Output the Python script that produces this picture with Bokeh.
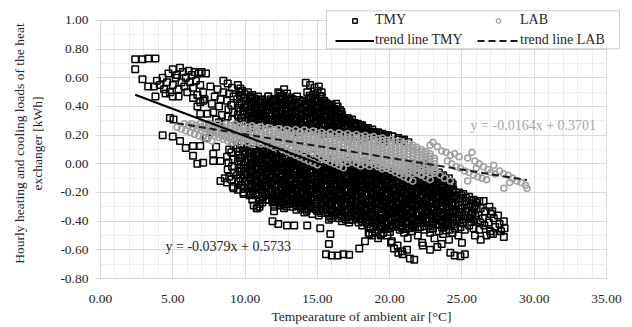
from bokeh.plotting import figure
from bokeh.models import (Legend, LegendItem, SingleIntervalTicker,
                          NumeralTickFormatter, Label, BoxAnnotation, Range1d)
from bokeh.embed import file_html
from bokeh.resources import INLINE

# ---------------- data ----------------
# TMY: hourly loads vs ambient temperature, (temperature, load) pairs
tmy_upper_left = [
    (2.4, .73), (2.9, .73), (3.3, .735), (3.8, .735), (2.4, .66), (2.9, .59), (3.3, .54), (3.7, .54),
    (3.8, .47), (3.9, .58), (4.1, .55), (4.3, .60), (4.4, .52), (4.6, .57), (4.7, .63), (4.8, .50),
    (5.0, .66), (5.0, .55), (5.2, .60), (5.3, .62), (5.4, .52), (5.5, .67), (5.6, .57), (5.7, .64),
    (5.8, .54), (5.9, .60), (6.0, .50), (6.1, .65), (6.2, .57), (6.3, .62), (6.4, .53), (6.5, .64),
    (6.6, .58), (6.7, .48), (6.8, .63), (6.9, .55), (7.0, .64), (7.1, .50), (7.2, .45), (5.0, .47),
    (5.4, .47), (4.5, .49), (6.4, .46), (6.9, .43), (7.3, .63),
]
tmy_lower_left = [
    (4.3, .20), (5.0, .19), (4.8, .32), (5.05, .31), (5.5, .16), (5.9, .11), (6.4, .125), (6.9, .125),
    (7.3, .18), (7.6, .22), (7.5, .27), (6.4, .056), (6.7, .0), (7.1, .007), (7.8, .02), (8.3, .02),
    (8.0, .12), (7.8, .07), (6.9, .35), (7.4, .35), (7.8, .36), (6.7, .40), (7.1, .44), (8.3, -.12),
    (8.6, -.10), (9.2, -.17), (9.9, -.21), (10.4, -.21), (10.6, -.29), (10.8, -.31), (11.0, -.30),
    (12.0, -.26), (7.6, .54), (7.7, .42), (7.9, .47), (8.0, .31), (8.1, .52), (8.2, .40), (8.3, .45),
    (8.4, .34), (8.5, .58), (8.5, .50), (8.6, .28), (8.2, .29),
]
tmy_core = [
    (8.8, .56), (8.9, .49), (8.75, .44), (8.85, .38), (8.8, .33), (8.9, .10), (8.75, .05), (8.85, .01), (8.8, -.04), (8.9, -.09), (8.75, -.13),
    (9.1, .53), (9.2, .47), (9.05, .41), (9.15, .36), (9.1, .31), (9.2, .13), (9.05, .08), (9.15, .03), (9.1, -.02), (9.2, -.06), (9.05, -.11), (9.15, -.16),
    (9.5, .55), (9.6, .50), (9.45, .45), (9.55, .39), (9.5, .34), (9.6, .29), (9.45, .11), (9.55, .06), (9.5, .02), (9.6, -.03), (9.45, -.08), (9.55, -.12), (9.5, -.18),
    (9.8, .51), (9.9, .46), (9.75, .42), (9.85, .37), (9.8, .32), (9.9, .27), (9.75, .14), (9.85, .09), (9.8, .04), (9.9, -.01), (9.75, -.05), (9.85, -.10), (9.8, -.15), (9.9, -.20),
    (10.2, .50), (10.3, .44), (10.15, .40), (10.25, .35), (10.2, .30), (10.3, .25), (10.15, .12), (10.25, .07), (10.2, .03), (10.3, -.02), (10.15, -.07), (10.25, -.12), (10.2, -.17), (10.3, -.22),
    (10.5, .48), (10.6, .43), (10.45, .38), (10.55, .33), (10.5, .28), (10.6, .10), (10.45, .05), (10.55, .00), (10.5, -.04), (10.6, -.09), (10.45, -.14), (10.55, -.19), (10.5, -.25),
    (10.9, .47), (11.0, .42), (10.85, .37), (10.95, .32), (10.9, .27), (11.0, .13), (10.85, .08), (10.95, .03), (10.9, -.02), (11.0, -.06), (10.85, -.11), (10.95, -.16), (10.9, -.21), (11.0, -.28), (10.85, -.31),
    (11.2, .45), (11.3, .40), (11.15, .35), (11.25, .30), (11.2, .11), (11.3, .06), (11.15, .01), (11.25, -.04), (11.2, -.08), (11.3, -.13), (11.15, -.18), (11.25, -.23), (11.2, -.27),
    (11.6, .47), (11.7, .43), (11.55, .38), (11.65, .33), (11.6, .28), (11.7, .09), (11.55, .04), (11.65, -.01), (11.6, -.05), (11.7, -.10), (11.55, -.15), (11.65, -.20), (11.6, -.25),
    (11.9, .44), (12.0, .39), (11.85, .34), (11.95, .29), (11.9, .12), (12.0, .07), (11.85, .02), (11.95, -.03), (11.9, -.07), (12.0, -.12), (11.85, -.17), (11.95, -.22), (11.9, -.27), (12.0, -.33),
    (12.3, .50), (12.4, .45), (12.25, .40), (12.35, .35), (12.3, .30), (12.4, .25), (12.25, .05), (12.35, .00), (12.3, -.05), (12.4, -.09), (12.25, -.14), (12.35, -.19), (12.3, -.24), (12.4, -.29),
    (12.6, .47), (12.7, .42), (12.55, .37), (12.65, .32), (12.6, .27), (12.7, .08), (12.55, .03), (12.65, -.02), (12.6, -.07), (12.7, -.11), (12.55, -.16), (12.65, -.21), (12.6, -.26), (12.7, -.31),
    (12.9, .49), (13.0, .44), (12.85, .39), (12.95, .34), (12.9, .29), (13.0, .24), (12.85, .06), (12.95, .01), (12.9, -.04), (13.0, -.08), (12.85, -.13), (12.95, -.18), (12.9, -.23), (13.0, -.28),
    (13.3, .45), (13.4, .40), (13.25, .35), (13.35, .30), (13.3, .25), (13.4, .04), (13.25, -.01), (13.35, -.06), (13.3, -.10), (13.4, -.15), (13.25, -.20), (13.35, -.25), (13.3, -.30),
    (13.6, .47), (13.7, .42), (13.55, .37), (13.65, .32), (13.6, .27), (13.7, .22), (13.55, .07), (13.65, .02), (13.6, -.03), (13.7, -.08), (13.55, -.12), (13.65, -.17), (13.6, -.22), (13.7, -.27), (13.55, -.32),
    (14.0, .44), (14.1, .39), (13.95, .34), (14.05, .29), (14.0, .24), (14.1, .05), (13.95, .00), (14.05, -.05), (14.0, -.10), (14.1, -.14), (13.95, -.19), (14.05, -.24), (14.0, -.29), (14.1, -.34),
    (14.3, .50), (14.4, .45), (14.25, .40), (14.35, .35), (14.3, .30), (14.4, .25), (14.25, .03), (14.35, -.02), (14.3, -.07), (14.4, -.11), (14.25, -.16), (14.35, -.21), (14.3, -.26), (14.4, -.31),
    (14.7, .48), (14.8, .43), (14.65, .38), (14.75, .33), (14.7, .28), (14.8, .23), (14.65, .06), (14.75, .01), (14.7, -.04), (14.8, -.09), (14.65, -.13), (14.75, -.18), (14.7, -.23), (14.8, -.28), (14.65, -.35),
    (15.0, .51), (15.1, .44), (14.95, .39), (15.05, .34), (15.0, .29), (15.1, .04), (14.95, -.01), (15.05, -.06), (15.0, -.11), (15.1, -.15), (14.95, -.20), (15.05, -.25), (15.0, -.30), (15.1, -.36),
    (15.3, .47), (15.4, .41), (15.25, .36), (15.35, .31), (15.3, .26), (15.4, .21), (15.25, .02), (15.35, -.03), (15.3, -.08), (15.4, -.12), (15.25, -.17), (15.35, -.22), (15.3, -.27), (15.4, -.32),
    (15.7, .42), (15.8, .38), (15.65, .33), (15.75, .28), (15.7, .23), (15.8, .00), (15.65, -.05), (15.75, -.10), (15.7, -.14), (15.8, -.19), (15.65, -.24), (15.75, -.29), (15.7, -.34), (15.8, -.39),
    (16.0, .41), (16.1, .36), (15.95, .31), (16.05, .26), (16.0, .21), (16.1, .03), (15.95, -.02), (16.05, -.07), (16.0, -.12), (16.1, -.16), (15.95, -.21), (16.05, -.26), (16.0, -.31), (16.1, -.36),
    (16.4, .40), (16.5, .35), (16.35, .30), (16.45, .25), (16.4, .20), (16.5, .01), (16.35, -.04), (16.45, -.09), (16.4, -.14), (16.5, -.18), (16.35, -.23), (16.45, -.28), (16.4, -.33), (16.5, -.38),
    (16.7, .34), (16.8, .29), (16.65, .24), (16.75, .19), (16.7, -.01), (16.8, -.06), (16.65, -.11), (16.75, -.15), (16.7, -.20), (16.8, -.25), (16.65, -.30), (16.75, -.35), (16.7, -.40),
    (17.1, .32), (17.2, .27), (17.05, .22), (17.15, .17), (17.1, .02), (17.2, -.03), (17.05, -.08), (17.15, -.13), (17.1, -.17), (17.2, -.22), (17.05, -.27), (17.15, -.32), (17.1, -.37), (17.2, -.41),
    (17.4, .31), (17.5, .26), (17.35, .21), (17.45, .00), (17.4, -.05), (17.5, -.10), (17.35, -.15), (17.45, -.19), (17.4, -.24), (17.5, -.29), (17.35, -.34), (17.45, -.39),
    (17.8, .28), (17.9, .24), (17.75, .19), (17.85, -.02), (17.8, -.07), (17.9, -.12), (17.75, -.16), (17.85, -.21), (17.8, -.26), (17.9, -.31), (17.75, -.36), (17.85, -.41),
    (18.1, .27), (18.2, .22), (18.05, .17), (18.15, .01), (18.1, -.04), (18.2, -.09), (18.05, -.14), (18.15, -.18), (18.1, -.23), (18.2, -.28), (18.05, -.33), (18.15, -.38), (18.1, -.43),
    (18.5, .25), (18.6, .20), (18.45, -.03), (18.55, -.08), (18.5, -.12), (18.6, -.17), (18.45, -.22), (18.55, -.27), (18.5, -.32), (18.6, -.37), (18.45, -.42), (18.55, -.48),
    (18.8, .24), (18.9, .19), (18.75, .00), (18.85, -.05), (18.8, -.10), (18.9, -.14), (18.75, -.19), (18.85, -.24), (18.8, -.29), (18.9, -.34), (18.75, -.39), (18.85, -.44), (18.8, -.50),
    (19.2, .22), (19.3, .17), (19.15, -.02), (19.25, -.07), (19.2, -.12), (19.3, -.16), (19.15, -.21), (19.25, -.26), (19.2, -.31), (19.3, -.36), (19.15, -.41), (19.25, -.46), (19.2, -.52),
    (19.5, .21), (19.6, .16), (19.45, -.04), (19.55, -.09), (19.5, -.14), (19.6, -.18), (19.45, -.23), (19.55, -.28), (19.5, -.33), (19.6, -.38), (19.45, -.43), (19.55, -.48),
    (19.9, .20), (20.0, -.06), (19.85, -.11), (19.95, -.15), (19.9, -.20), (20.0, -.25), (19.85, -.30), (19.95, -.35), (19.9, -.40), (20.0, -.45), (19.85, -.50),
    (20.2, .19), (20.3, -.05), (20.15, -.10), (20.25, -.14), (20.2, -.19), (20.3, -.24), (20.15, -.29), (20.25, -.34), (20.2, -.39), (20.3, -.44), (20.15, -.54),
    (20.6, .17), (20.7, -.07), (20.55, -.12), (20.65, -.16), (20.6, -.21), (20.7, -.26), (20.55, -.31), (20.65, -.36), (20.6, -.41), (20.7, -.46), (20.55, -.57),
    (20.9, .16), (21.0, -.09), (20.85, -.13), (20.95, -.18), (20.9, -.23), (21.0, -.28), (20.85, -.33), (20.95, -.38), (20.9, -.43), (21.0, -.48), (20.85, -.61),
    (21.3, .15), (21.4, -.06), (21.25, -.11), (21.35, -.15), (21.3, -.20), (21.4, -.25), (21.25, -.30), (21.35, -.35), (21.3, -.40), (21.4, -.45), (21.25, -.52),
    (21.6, .00), (21.7, -.04), (21.55, -.08), (21.65, -.13), (21.6, -.17), (21.7, -.22), (21.55, -.27), (21.65, -.32), (21.6, -.37), (21.7, -.42), (21.55, -.47),
    (22.0, -.01), (22.1, -.05), (21.95, -.10), (22.05, -.14), (22.0, -.19), (22.1, -.24), (21.95, -.29), (22.05, -.34), (22.0, -.39), (22.1, -.44), (21.95, -.50),
    (22.3, .00), (22.4, -.07), (22.25, -.12), (22.35, -.16), (22.3, -.21), (22.4, -.26), (22.25, -.31), (22.35, -.36), (22.3, -.41), (22.4, -.46), (22.25, -.55),
    (22.7, -.02), (22.8, -.09), (22.65, -.13), (22.75, -.18), (22.7, -.23), (22.8, -.28), (22.65, -.33), (22.75, -.38), (22.7, -.43), (22.8, -.48),
    (23.0, -.04), (23.1, -.11), (22.95, -.15), (23.05, -.20), (23.0, -.25), (23.1, -.30), (22.95, -.35), (23.05, -.40), (23.0, -.45), (23.1, -.52),
    (23.4, -.06), (23.5, -.12), (23.35, -.17), (23.45, -.22), (23.4, -.27), (23.5, -.32), (23.35, -.37), (23.45, -.42), (23.4, -.47),
    (23.7, -.08), (23.8, -.14), (23.65, -.19), (23.75, -.24), (23.7, -.29), (23.8, -.34), (23.65, -.39), (23.75, -.44), (23.7, -.49),
    (24.1, -.10), (24.2, -.16), (24.05, -.20), (24.15, -.25), (24.1, -.30), (24.2, -.35), (24.05, -.40), (24.15, -.46), (24.1, -.53),
    (24.4, -.18), (24.5, -.22), (24.35, -.27), (24.45, -.32), (24.4, -.37), (24.5, -.42), (24.35, -.48),
    (24.8, -.20), (24.9, -.24), (24.75, -.29), (24.85, -.34), (24.8, -.39), (24.9, -.44), (24.75, -.50),
    (25.1, -.21), (25.2, -.26), (25.05, -.31), (25.15, -.36), (25.1, -.41), (25.2, -.46),
    (25.5, -.23), (25.6, -.28), (25.45, -.33), (25.55, -.38), (25.5, -.43),
    (25.8, -.25), (25.9, -.29), (25.75, -.34), (25.85, -.39), (25.8, -.45),
    (26.2, -.26), (26.3, -.31), (26.15, -.36), (26.25, -.41), (26.2, -.46),
    (26.6, -.33), (26.45, -.38), (26.55, -.43),
    (26.9, -.30), (27.0, -.35), (26.85, -.41), (26.95, -.47),
    (27.2, -.38), (27.3, -.44), (27.15, -.49),
    (27.6, -.42), (27.7, -.47), (27.9, -.40), (27.95, -.45),
]
tmy_core_fill = [
    (9.67, .525), (9.72, .475), (9.62, .42), (9.67, .365), (9.72, .315), (9.62, .085), (9.67, .04), (9.72, -.005), (9.62, -.055), (9.67, -.10), (9.72, -.15),
    (9.97, .485), (10.02, .44), (9.92, .395), (9.97, .345), (10.02, .295), (9.92, .115), (9.97, .065), (10.02, .015), (9.92, -.03), (9.97, -.075), (10.02, -.125), (9.92, -.175),
    (10.37, .47), (10.42, .42), (10.32, .375), (10.37, .325), (10.42, .275), (10.32, .095), (10.37, .05), (10.42, .005), (10.32, -.045), (10.37, -.095), (10.42, -.145), (10.32, -.195),
    (10.67, .455), (10.72, .405), (10.62, .355), (10.67, .305), (10.72, .075), (10.62, .025), (10.67, -.02), (10.72, -.065), (10.62, -.115), (10.67, -.165), (10.72, -.22),
    (11.07, .445), (11.12, .395), (11.02, .345), (11.07, .295), (11.12, .105), (11.02, .055), (11.07, .005), (11.12, -.04), (11.02, -.085), (11.07, -.135), (11.12, -.185), (11.02, -.245),
    (11.37, .425), (11.42, .375), (11.32, .325), (11.37, .085), (11.42, .035), (11.32, -.015), (11.37, -.06), (11.42, -.105), (11.32, -.155), (11.37, -.205), (11.42, -.25),
    (11.77, .45), (11.82, .405), (11.72, .355), (11.77, .305), (11.82, .065), (11.72, .015), (11.77, -.03), (11.82, -.075), (11.72, -.125), (11.77, -.175), (11.82, -.225),
    (12.07, .415), (12.12, .365), (12.02, .315), (12.07, .095), (12.12, .045), (12.02, -.005), (12.07, -.05), (12.12, -.095), (12.02, -.145), (12.07, -.195), (12.12, -.245), (12.02, -.30),
    (12.47, .475), (12.52, .425), (12.42, .375), (12.47, .325), (12.52, .275), (12.42, .025), (12.47, -.025), (12.52, -.07), (12.42, -.115), (12.47, -.165), (12.52, -.215), (12.42, -.265),
    (12.77, .445), (12.82, .395), (12.72, .345), (12.77, .295), (12.82, .055), (12.72, .005), (12.77, -.045), (12.82, -.09), (12.72, -.135), (12.77, -.185), (12.82, -.235), (12.72, -.285),
    (13.07, .465), (13.12, .415), (13.02, .365), (13.07, .315), (13.12, .265), (13.02, .035), (13.07, -.015), (13.12, -.06), (13.02, -.105), (13.07, -.155), (13.12, -.205), (13.02, -.255),
    (13.47, .425), (13.52, .375), (13.42, .325), (13.47, .275), (13.52, .015), (13.42, -.035), (13.47, -.08), (13.52, -.125), (13.42, -.175), (13.47, -.225), (13.52, -.275),
    (13.77, .445), (13.82, .395), (13.72, .345), (13.77, .295), (13.82, .245), (13.72, .045), (13.77, -.005), (13.82, -.055), (13.72, -.10), (13.77, -.145), (13.82, -.195), (13.72, -.245), (13.77, -.295),
    (14.17, .415), (14.22, .365), (14.12, .315), (14.17, .265), (14.22, .025), (14.12, -.025), (14.17, -.075), (14.22, -.12), (14.12, -.165), (14.17, -.215), (14.22, -.265), (14.12, -.315),
    (14.47, .475), (14.52, .425), (14.42, .375), (14.47, .325), (14.52, .275), (14.42, .005), (14.47, -.045), (14.52, -.09), (14.42, -.135), (14.47, -.185), (14.52, -.235), (14.42, -.285),
    (14.87, .455), (14.92, .405), (14.82, .355), (14.87, .305), (14.92, .255), (14.82, .035), (14.87, -.015), (14.92, -.065), (14.82, -.11), (14.87, -.155), (14.92, -.205), (14.82, -.255), (14.87, -.315),
    (15.17, .475), (15.22, .415), (15.12, .365), (15.17, .315), (15.22, .015), (15.12, -.035), (15.17, -.085), (15.22, -.13), (15.12, -.175), (15.17, -.225), (15.22, -.275), (15.12, -.33),
    (15.47, .44), (15.52, .385), (15.42, .335), (15.47, .285), (15.52, .235), (15.42, -.005), (15.47, -.055), (15.52, -.10), (15.42, -.145), (15.47, -.195), (15.52, -.245), (15.42, -.295),
    (15.87, .40), (15.92, .355), (15.82, .305), (15.87, .255), (15.92, -.025), (15.82, -.075), (15.87, -.12), (15.92, -.165), (15.82, -.215), (15.87, -.265), (15.92, -.315), (15.82, -.365),
    (16.17, .385), (16.22, .335), (16.12, .285), (16.17, .235), (16.22, .005), (16.12, -.045), (16.17, -.095), (16.22, -.14), (16.12, -.185), (16.17, -.235), (16.22, -.285), (16.12, -.335),
    (16.57, .375), (16.62, .325), (16.52, .275), (16.57, .225), (16.62, -.015), (16.52, -.065), (16.57, -.115), (16.62, -.16), (16.52, -.205), (16.57, -.255), (16.62, -.305), (16.52, -.355),
    (16.87, .315), (16.92, .265), (16.82, .215), (16.87, -.035), (16.92, -.085), (16.82, -.13), (16.87, -.175), (16.92, -.225), (16.82, -.275), (16.87, -.325), (16.92, -.375),
    (17.27, .295), (17.32, .245), (17.22, .195), (17.27, -.005), (17.32, -.055), (17.22, -.105), (17.27, -.15), (17.32, -.195), (17.22, -.245), (17.27, -.295), (17.32, -.345), (17.22, -.39),
    (17.57, .285), (17.62, .235), (17.52, -.025), (17.57, -.075), (17.62, -.125), (17.52, -.17), (17.57, -.215), (17.62, -.265), (17.52, -.315), (17.57, -.365),
    (17.97, .26), (18.02, .215), (17.92, -.045), (17.97, -.095), (18.02, -.14), (17.92, -.185), (17.97, -.235), (18.02, -.285), (17.92, -.335), (17.97, -.385),
    (18.27, .245), (18.32, .195), (18.22, -.015), (18.27, -.065), (18.32, -.115), (18.22, -.16), (18.27, -.205), (18.32, -.255), (18.22, -.305), (18.27, -.355), (18.32, -.405),
    (18.67, .225), (18.72, -.055), (18.62, -.10), (18.67, -.145), (18.72, -.195), (18.62, -.245), (18.67, -.295), (18.72, -.345), (18.62, -.395), (18.67, -.45),
    (18.97, .215), (19.02, -.025), (18.92, -.075), (18.97, -.12), (19.02, -.165), (18.92, -.215), (18.97, -.265), (19.02, -.315), (18.92, -.365), (18.97, -.415), (19.02, -.47),
    (19.37, .195), (19.42, -.045), (19.32, -.095), (19.37, -.14), (19.42, -.185), (19.32, -.235), (19.37, -.285), (19.42, -.335), (19.32, -.385), (19.37, -.435), (19.42, -.49),
    (19.67, .185), (19.72, -.065), (19.62, -.115), (19.67, -.16), (19.72, -.205), (19.62, -.255), (19.67, -.305), (19.72, -.355), (19.62, -.405), (19.67, -.455),
    (20.07, -.085), (20.12, -.13), (20.02, -.175), (20.07, -.225), (20.12, -.275), (20.02, -.325), (20.07, -.375), (20.12, -.425), (20.02, -.475),
    (20.37, -.075), (20.42, -.12), (20.32, -.165), (20.37, -.215), (20.42, -.265), (20.32, -.315), (20.37, -.365), (20.42, -.415),
    (20.77, -.095), (20.82, -.14), (20.72, -.185), (20.77, -.235), (20.82, -.285), (20.72, -.335), (20.77, -.385), (20.82, -.435),
    (21.07, -.11), (21.12, -.155), (21.02, -.205), (21.07, -.255), (21.12, -.305), (21.02, -.355), (21.07, -.405), (21.12, -.455),
    (21.47, -.085), (21.52, -.13), (21.42, -.175), (21.47, -.225), (21.52, -.275), (21.42, -.325), (21.47, -.375), (21.52, -.425),
    (21.77, -.02), (21.82, -.06), (21.72, -.105), (21.77, -.15), (21.82, -.195), (21.72, -.245), (21.77, -.295), (21.82, -.345), (21.72, -.395), (21.77, -.445),
    (22.17, -.03), (22.22, -.075), (22.12, -.12), (22.17, -.165), (22.22, -.215), (22.12, -.265), (22.17, -.315), (22.22, -.365), (22.12, -.415),
    (22.47, -.035), (22.52, -.095), (22.42, -.14), (22.47, -.185), (22.52, -.235), (22.42, -.285), (22.47, -.335), (22.52, -.385), (22.42, -.435),
    (22.87, -.055), (22.92, -.11), (22.82, -.155), (22.87, -.205), (22.92, -.255), (22.82, -.305), (22.87, -.355), (22.92, -.405), (22.82, -.455),
    (23.17, -.075), (23.22, -.13), (23.12, -.175), (23.17, -.225), (23.22, -.275), (23.12, -.325), (23.17, -.375), (23.22, -.425),
    (23.57, -.09), (23.62, -.145), (23.52, -.195), (23.57, -.245), (23.62, -.295), (23.52, -.345), (23.57, -.395), (23.62, -.445),
    (23.87, -.11), (23.92, -.165), (23.82, -.215), (23.87, -.265), (23.92, -.315), (23.82, -.365), (23.87, -.415), (23.92, -.465),
    (24.27, -.13), (24.32, -.18), (24.22, -.225), (24.27, -.275), (24.32, -.325), (24.22, -.375), (24.27, -.43),
    (24.57, -.20), (24.62, -.245), (24.52, -.295), (24.57, -.345), (24.62, -.395), (24.52, -.45),
    (24.97, -.22), (25.02, -.265), (24.92, -.315), (24.97, -.365), (25.02, -.415),
    (25.27, -.235), (25.32, -.285), (25.22, -.335), (25.27, -.385),
    (25.67, -.255), (25.72, -.305), (25.62, -.355), (25.67, -.405),
    (25.97, -.27), (26.02, -.315), (25.92, -.365),
]
tmy_core_dense = [
    (10.46, .458), (10.46, .408), (10.46, .363), (10.46, .313), (10.46, .083), (10.46, .038), (10.46, -.008), (10.46, -.058), (10.46, -.108), (10.46, -.158),
    (10.76, .443), (10.76, .393), (10.76, .343), (10.76, .063), (10.76, .013), (10.76, -.033), (10.76, -.078), (10.76, -.128), (10.76, -.178),
    (11.16, .433), (11.16, .383), (11.16, .333), (11.16, .093), (11.16, .043), (11.16, -.008), (11.16, -.053), (11.16, -.098), (11.16, -.148), (11.16, -.198),
    (11.46, .413), (11.46, .363), (11.46, .313), (11.46, .073), (11.46, .023), (11.46, -.028), (11.46, -.073), (11.46, -.118), (11.46, -.168), (11.46, -.218),
    (11.86, .438), (11.86, .393), (11.86, .343), (11.86, .293), (11.86, .053), (11.86, .003), (11.86, -.043), (11.86, -.088), (11.86, -.138), (11.86, -.188), (11.86, -.238),
    (12.16, .403), (12.16, .353), (12.16, .303), (12.16, .083), (12.16, .033), (12.16, -.018), (12.16, -.063), (12.16, -.108), (12.16, -.158), (12.16, -.208), (12.16, -.258),
    (12.56, .463), (12.56, .413), (12.56, .363), (12.56, .313), (12.56, .263), (12.56, .013), (12.56, -.038), (12.56, -.083), (12.56, -.128), (12.56, -.178), (12.56, -.228), (12.56, -.278),
    (12.86, .433), (12.86, .383), (12.86, .333), (12.86, .283), (12.86, .043), (12.86, -.008), (12.86, -.058), (12.86, -.103), (12.86, -.148), (12.86, -.198), (12.86, -.248), (12.86, -.298),
    (13.16, .453), (13.16, .403), (13.16, .353), (13.16, .303), (13.16, .253), (13.16, .023), (13.16, -.028), (13.16, -.073), (13.16, -.118), (13.16, -.168), (13.16, -.218), (13.16, -.268),
    (13.56, .413), (13.56, .363), (13.56, .313), (13.56, .263), (13.56, .003), (13.56, -.048), (13.56, -.093), (13.56, -.138), (13.56, -.188), (13.56, -.238), (13.56, -.288),
    (13.86, .433), (13.86, .383), (13.86, .333), (13.86, .283), (13.86, .233), (13.86, .033), (13.86, -.018), (13.86, -.068), (13.86, -.113), (13.86, -.158), (13.86, -.208), (13.86, -.258), (13.86, -.308),
    (14.26, .403), (14.26, .353), (14.26, .303), (14.26, .253), (14.26, .013), (14.26, -.038), (14.26, -.088), (14.26, -.133), (14.26, -.178), (14.26, -.228), (14.26, -.278), (14.26, -.328),
    (14.56, .463), (14.56, .413), (14.56, .363), (14.56, .313), (14.56, .263), (14.56, -.008), (14.56, -.058), (14.56, -.103), (14.56, -.148), (14.56, -.198), (14.56, -.248), (14.56, -.298),
    (14.96, .443), (14.96, .393), (14.96, .343), (14.96, .293), (14.96, .243), (14.96, .023), (14.96, -.028), (14.96, -.078), (14.96, -.123), (14.96, -.168), (14.96, -.218), (14.96, -.268), (14.96, -.328),
    (15.26, .403), (15.26, .353), (15.26, .303), (15.26, .003), (15.26, -.048), (15.26, -.098), (15.26, -.143), (15.26, -.188), (15.26, -.238), (15.26, -.288), (15.26, -.343),
    (15.56, .428), (15.56, .373), (15.56, .323), (15.56, .273), (15.56, .223), (15.56, -.018), (15.56, -.068), (15.56, -.113), (15.56, -.158), (15.56, -.208), (15.56, -.258), (15.56, -.308),
    (15.96, .388), (15.96, .343), (15.96, .293), (15.96, .243), (15.96, -.038), (15.96, -.088), (15.96, -.133), (15.96, -.178), (15.96, -.228), (15.96, -.278), (15.96, -.328), (15.96, -.378),
    (16.26, .373), (16.26, .323), (16.26, .273), (16.26, .223), (16.26, -.008), (16.26, -.058), (16.26, -.108), (16.26, -.153), (16.26, -.198), (16.26, -.248), (16.26, -.298), (16.26, -.348),
    (16.66, .363), (16.66, .313), (16.66, .263), (16.66, .213), (16.66, -.028), (16.66, -.078), (16.66, -.128), (16.66, -.173), (16.66, -.218), (16.66, -.268), (16.66, -.318), (16.66, -.368),
    (16.96, .303), (16.96, .253), (16.96, .203), (16.96, -.048), (16.96, -.098), (16.96, -.143), (16.96, -.188), (16.96, -.238), (16.96, -.288), (16.96, -.338), (16.96, -.388),
    (17.36, .283), (17.36, .233), (17.36, .183), (17.36, -.018), (17.36, -.068), (17.36, -.118), (17.36, -.163), (17.36, -.208), (17.36, -.258), (17.36, -.308), (17.36, -.358),
    (17.66, .273), (17.66, .223), (17.66, -.038), (17.66, -.088), (17.66, -.138), (17.66, -.183), (17.66, -.228), (17.66, -.278), (17.66, -.328), (17.66, -.378),
    (18.06, .248), (18.06, .203), (18.06, -.058), (18.06, -.108), (18.06, -.153), (18.06, -.198), (18.06, -.248), (18.06, -.298), (18.06, -.348), (18.06, -.398),
    (18.36, .233), (18.36, .183), (18.36, -.028), (18.36, -.078), (18.36, -.128), (18.36, -.173), (18.36, -.218), (18.36, -.268), (18.36, -.318), (18.36, -.368),
    (18.76, .213), (18.76, -.068), (18.76, -.113), (18.76, -.158), (18.76, -.208), (18.76, -.258), (18.76, -.308), (18.76, -.358), (18.76, -.408),
    (19.06, .203), (19.06, -.038), (19.06, -.088), (19.06, -.133), (19.06, -.178), (19.06, -.228), (19.06, -.278), (19.06, -.328), (19.06, -.378), (19.06, -.428),
    (19.46, .183), (19.46, -.058), (19.46, -.108), (19.46, -.153), (19.46, -.198), (19.46, -.248), (19.46, -.298), (19.46, -.348), (19.46, -.398), (19.46, -.448),
    (19.76, .173), (19.76, -.078), (19.76, -.128), (19.76, -.173), (19.76, -.218), (19.76, -.268), (19.76, -.318), (19.76, -.368), (19.76, -.418),
    (20.16, -.098), (20.16, -.143), (20.16, -.188), (20.16, -.238), (20.16, -.288), (20.16, -.338), (20.16, -.388), (20.16, -.438),
    (20.46, -.088), (20.46, -.133), (20.46, -.178), (20.46, -.228), (20.46, -.278), (20.46, -.328), (20.46, -.378), (20.46, -.428),
    (20.86, -.108), (20.86, -.153), (20.86, -.198), (20.86, -.248), (20.86, -.298), (20.86, -.348), (20.86, -.398), (20.86, -.448),
    (21.16, -.123), (21.16, -.168), (21.16, -.218), (21.16, -.268), (21.16, -.318), (21.16, -.368), (21.16, -.418),
    (21.56, -.098), (21.56, -.143), (21.56, -.188), (21.56, -.238), (21.56, -.288), (21.56, -.338), (21.56, -.388), (21.56, -.438),
    (21.86, -.033), (21.86, -.073), (21.86, -.118), (21.86, -.163), (21.86, -.208), (21.86, -.258), (21.86, -.308), (21.86, -.358), (21.86, -.408),
    (22.26, -.043), (22.26, -.088), (22.26, -.133), (22.26, -.178), (22.26, -.228), (22.26, -.278), (22.26, -.328), (22.26, -.378),
    (22.56, -.048), (22.56, -.108), (22.56, -.153), (22.56, -.198), (22.56, -.248), (22.56, -.298), (22.56, -.348), (22.56, -.398),
    (22.96, -.068), (22.96, -.123), (22.96, -.168), (22.96, -.218), (22.96, -.268), (22.96, -.318), (22.96, -.368), (22.96, -.418),
    (23.26, -.088), (23.26, -.143), (23.26, -.188), (23.26, -.238), (23.26, -.288), (23.26, -.338), (23.26, -.388),
    (23.66, -.103), (23.66, -.158), (23.66, -.208), (23.66, -.258), (23.66, -.308), (23.66, -.358), (23.66, -.408),
    (23.96, -.123), (23.96, -.178), (23.96, -.228), (23.96, -.278), (23.96, -.328), (23.96, -.378), (23.96, -.428),
    (24.36, -.143), (24.36, -.193), (24.36, -.238), (24.36, -.288), (24.36, -.338), (24.36, -.388),
]
tmy_low_tail = [
    (11.9, -.40), (12.3, -.42), (12.9, -.43), (13.4, -.43), (14.3, -.43), (15.2, -.45), (15.9, -.49),
    (15.8, -.56), (15.6, -.63), (16.0, -.64), (16.4, -.64), (16.8, -.63), (17.2, -.635), (17.9, -.59),
    (18.3, -.54), (18.6, -.49), (19.0, -.48), (19.4, -.50), (20.1, -.55), (20.3, -.59), (20.6, -.62),
    (20.9, -.63), (21.2, -.60), (21.4, -.66), (21.7, -.67), (22.3, -.57), (22.8, -.60), (23.3, -.58),
    (23.6, -.56), (24.2, -.62), (24.5, -.64), (24.9, -.645), (25.2, -.63), (25.0, -.55), (25.9, -.50),
    (26.3, -.53), (26.7, -.50), (27.0, -.49), (27.9, -.51), (27.5, -.36), (27.1, -.33), (26.5, -.26),
]
tmy_top_edge = [
    (14.2, .565), (14.5, .55), (14.8, .53), (15.1, .54), (15.3, .50), (14.9, .44), (16.3, .42), (15.7, .40),
    (16.1, .38), (16.8, .32), (17.2, .31), (17.5, .28), (18.0, .27), (18.4, .24), (18.9, .22), (19.3, .21),
    (19.7, .20), (20.2, .19), (20.6, .18), (21.0, .17), (12.7, .52), (12.4, .49), (11.6, .47), (12.0, .45),
]

# LAB: measured loads, (temperature, load) pairs
lab_band = [
    (5.3, .255), (5.6, .243), (5.9, .231), (6.2, .219), (6.5, .207), (6.8, .195), (7.1, .183), (7.4, .171), (7.7, .159),
    (5.8, .280), (6.1, .268), (6.4, .256), (6.7, .244), (7.0, .232), (7.3, .220), (7.6, .208), (7.9, .196), (8.2, .184), (8.5, .172), (8.8, .160), (9.1, .148),
    (6.9, .280), (7.2, .268), (7.5, .256), (7.8, .244), (8.1, .232), (8.4, .220), (8.7, .208), (9.0, .196), (9.3, .184), (9.6, .172), (9.9, .160), (10.2, .148), (10.5, .136),
    (8.1, .280), (8.4, .267), (8.7, .255), (9.0, .242), (9.3, .230), (9.6, .217), (9.9, .204), (10.2, .192), (10.5, .179), (10.8, .167), (11.1, .154), (11.4, .141), (11.7, .129), (12.0, .116),
    (9.3, .275), (9.6, .262), (9.9, .250), (10.2, .237), (10.5, .225), (10.8, .212), (11.1, .199), (11.4, .187), (11.7, .174), (12.0, .162), (12.3, .149), (12.6, .136), (12.9, .124), (13.2, .111), (13.5, .099),
    (10.5, .265), (10.8, .252), (11.1, .238), (11.4, .225), (11.7, .211), (12.0, .198), (12.3, .184), (12.6, .171), (12.9, .157), (13.2, .144), (13.5, .130), (13.8, .117), (14.1, .103), (14.4, .090), (14.7, .076), (15.0, .063),
    (11.7, .250), (12.0, .235), (12.3, .220), (12.6, .205), (12.9, .190), (13.2, .175), (13.5, .160), (13.8, .145), (14.1, .130), (14.4, .115), (14.7, .100), (15.0, .085), (15.3, .070), (15.6, .055), (15.9, .040), (16.2, .025), (16.5, .010),
    (12.9, .240), (13.2, .225), (13.5, .210), (13.8, .195), (14.1, .180), (14.4, .165), (14.7, .150), (15.0, .135), (15.3, .120), (15.6, .105), (15.9, .090), (16.2, .075), (16.5, .060), (16.8, .045), (17.1, .030), (17.4, .015), (17.7, .000), (18.0, -.015),
    (14.1, .235), (14.4, .220), (14.7, .205), (15.0, .190), (15.3, .175), (15.6, .160), (15.9, .145), (16.2, .130), (16.5, .115), (16.8, .100), (17.1, .085), (17.4, .070), (17.7, .055), (18.0, .040), (18.3, .025), (18.6, .010), (18.9, -.005), (19.2, -.020), (19.5, -.035),
    (15.3, .220), (15.6, .205), (15.9, .190), (16.2, .175), (16.5, .160), (16.8, .145), (17.1, .130), (17.4, .115), (17.7, .100), (18.0, .085), (18.3, .070), (18.6, .055), (18.9, .040), (19.2, .025), (19.5, .010), (19.8, -.005), (20.1, -.020), (20.4, -.035), (20.7, -.050), (21.0, -.065),
    (16.5, .215), (16.8, .200), (17.1, .185), (17.4, .170), (17.7, .155), (18.0, .140), (18.3, .125), (18.6, .110), (18.9, .095), (19.2, .080), (19.5, .065), (19.8, .050), (20.1, .035), (20.4, .020), (20.7, .005), (21.0, -.010), (21.3, -.025), (21.6, -.040), (21.9, -.055), (22.2, -.070),
    (17.7, .205), (18.0, .190), (18.3, .175), (18.6, .160), (18.9, .145), (19.2, .130), (19.5, .115), (19.8, .100), (20.1, .085), (20.4, .070), (20.7, .055), (21.0, .040), (21.3, .025), (21.6, .010), (21.9, -.005), (22.2, -.020), (22.5, -.035), (22.8, -.050), (23.1, -.065),
    (18.9, .190), (19.2, .175), (19.5, .160), (19.8, .145), (20.1, .130), (20.4, .115), (20.7, .100), (21.0, .085), (21.3, .070), (21.6, .055), (21.9, .040), (22.2, .025), (22.5, .010), (22.8, -.005), (23.1, -.020),
    (20.1, .170), (20.4, .155), (20.7, .140), (21.0, .125), (21.3, .110), (21.6, .095), (21.9, .080), (22.2, .065), (22.5, .050), (22.8, .035), (23.1, .020),
    (21.3, .145), (21.6, .130), (21.9, .115), (22.2, .100), (22.5, .085), (22.8, .070),
    (19.2, .000), (19.5, -.015), (19.8, -.030), (20.1, -.045), (20.4, -.060), (20.7, -.075), (21.0, -.090), (21.3, -.105), (21.6, -.120),
    (21.0, -.020), (21.3, -.035), (21.6, -.050), (21.9, -.065), (22.2, -.080), (22.5, -.095), (22.8, -.110),
    (12.6, .100), (12.9, .087), (13.2, .073), (13.5, .060), (13.8, .047), (14.1, .033), (14.4, .020), (14.7, .007), (15.0, -.007),
    (15.3, .040), (15.6, .026), (15.9, .013), (16.2, .000), (16.5, -.014), (16.8, -.027),
]
lab_band_fill = [
    (6.3, .280), (6.6, .268), (6.9, .256), (7.2, .244), (7.5, .232), (7.8, .220), (8.1, .208), (8.4, .196), (8.7, .184), (9.0, .172), (9.3, .160), (9.6, .148),
    (7.5, .282), (7.8, .270), (8.1, .258), (8.4, .246), (8.7, .234), (9.0, .222), (9.3, .210), (9.6, .198), (9.9, .186), (10.2, .174), (10.5, .162), (10.8, .150), (11.1, .138),
    (8.7, .278), (9.0, .265), (9.3, .253), (9.6, .240), (9.9, .228), (10.2, .215), (10.5, .202), (10.8, .190), (11.1, .177), (11.4, .165), (11.7, .152), (12.0, .139), (12.3, .127), (12.6, .114),
    (9.9, .270), (10.2, .257), (10.5, .243), (10.8, .230), (11.1, .216), (11.4, .203), (11.7, .189), (12.0, .176), (12.3, .162), (12.6, .149), (12.9, .135), (13.2, .122), (13.5, .108), (13.8, .095), (14.1, .081),
    (11.1, .258), (11.4, .243), (11.7, .228), (12.0, .213), (12.3, .198), (12.6, .183), (12.9, .168), (13.2, .153), (13.5, .138), (13.8, .123), (14.1, .108), (14.4, .093), (14.7, .078), (15.0, .063), (15.3, .048), (15.6, .033),
    (12.3, .245), (12.6, .230), (12.9, .215), (13.2, .200), (13.5, .185), (13.8, .170), (14.1, .155), (14.4, .140), (14.7, .125), (15.0, .110), (15.3, .095), (15.6, .080), (15.9, .065), (16.2, .050), (16.5, .035), (16.8, .020), (17.1, .005),
    (13.5, .238), (13.8, .223), (14.1, .208), (14.4, .193), (14.7, .178), (15.0, .163), (15.3, .148), (15.6, .133), (15.9, .118), (16.2, .103), (16.5, .088), (16.8, .073), (17.1, .058), (17.4, .043), (17.7, .028), (18.0, .013), (18.3, -.002), (18.6, -.017),
    (14.7, .228), (15.0, .213), (15.3, .198), (15.6, .183), (15.9, .168), (16.2, .153), (16.5, .138), (16.8, .123), (17.1, .108), (17.4, .093), (17.7, .078), (18.0, .063), (18.3, .048), (18.6, .033), (18.9, .018), (19.2, .003), (19.5, -.012), (19.8, -.027), (20.1, -.042),
    (15.9, .218), (16.2, .203), (16.5, .188), (16.8, .173), (17.1, .158), (17.4, .143), (17.7, .128), (18.0, .113), (18.3, .098), (18.6, .083), (18.9, .068), (19.2, .053), (19.5, .038), (19.8, .023), (20.1, .008), (20.4, -.007), (20.7, -.022), (21.0, -.037), (21.3, -.052), (21.6, -.067),
    (17.1, .210), (17.4, .195), (17.7, .180), (18.0, .165), (18.3, .150), (18.6, .135), (18.9, .120), (19.2, .105), (19.5, .090), (19.8, .075), (20.1, .060), (20.4, .045), (20.7, .030), (21.0, .015), (21.3, .000), (21.6, -.015), (21.9, -.030), (22.2, -.045), (22.5, -.060), (22.8, -.075),
    (18.3, .198), (18.6, .183), (18.9, .168), (19.2, .153), (19.5, .138), (19.8, .123), (20.1, .108), (20.4, .093), (20.7, .078), (21.0, .063), (21.3, .048), (21.6, .033), (21.9, .018), (22.2, .003), (22.5, -.012), (22.8, -.027), (23.1, -.042),
    (19.5, .180), (19.8, .165), (20.1, .150), (20.4, .135), (20.7, .120), (21.0, .105), (21.3, .090), (21.6, .075), (21.9, .060), (22.2, .045), (22.5, .030), (22.8, .015), (23.1, .000),
    (20.7, .158), (21.0, .143), (21.3, .128), (21.6, .113), (21.9, .098), (22.2, .083), (22.5, .068), (22.8, .053), (23.1, .038),
]
lab_tail = [
    (22.8, .13), (23.0, .15), (23.3, .12), (23.6, .09), (23.9, .08), (24.2, .06), (24.5, .07), (24.8, .05),
    (24.0, .02), (24.3, .00), (24.6, -.02), (24.9, -.03), (25.2, -.05), (25.5, -.06), (25.8, -.08), (26.1, -.09),
    (25.7, .08), (25.4, .04), (25.9, .02), (26.2, .00), (26.5, -.02), (26.8, -.04), (27.2, -.01), (27.0, -.06),
    (27.3, -.07), (27.6, -.05), (27.9, -.07), (28.2, -.08), (28.5, -.10), (28.8, -.12), (29.1, -.13), (29.4, -.15),
    (29.5, -.17), (27.9, -.17), (28.3, -.13), (26.4, -.10), (26.7, -.11), (24.2, -.12), (25.4, -.12), (23.2, -.05),
    (23.5, -.08), (23.8, -.10), (22.9, -.02), (26.0, -.03),
]

# linear trend lines (coefficients as printed on the chart)
tmy_slope, tmy_intercept = -0.0379, 0.5733
lab_slope, lab_intercept = -0.0164, 0.3701
tmy_equation = "y = -0.0379x + 0.5733"
lab_equation = "y = -0.0164x + 0.3701"

x_title = "Tempearature of ambient air [°C]"
y_title = "Hourly heating and cooling loads of the heat\nexchanger [kWh]"
x_axis_span = (0, 35)
y_axis_span = (-0.8, 1.0)

# ---------------- build the chart ----------------
tmy_pts = (tmy_upper_left + tmy_lower_left + tmy_core + tmy_core_fill + tmy_core_dense
           + tmy_low_tail + tmy_top_edge)
lab_pts = lab_band + lab_band_fill + lab_tail
tmy_x = [q[0] for q in tmy_pts]
tmy_y = [q[1] for q in tmy_pts]
lab_x = [q[0] for q in lab_pts]
lab_y = [q[1] for q in lab_pts]

FONT = "Liberation Serif"
TXT = "#262626"
GRAY = "#a0a0a0"

# the frame is extended a little above and to the right of the axes so that the
# legend box (which overhangs the plot area in the original) is not clipped
p = figure(width=632, height=327,
           x_range=Range1d(0, 36.107), y_range=Range1d(-0.8, 1.0837),
           output_backend="svg", toolbar_location=None,
           min_border_left=100, min_border_right=10, min_border_top=8, min_border_bottom=49)
p.outline_line_color = None
p.background_fill_color = "white"
p.border_fill_color = "white"

xt = SingleIntervalTicker(interval=5, num_minor_ticks=5)
yt = SingleIntervalTicker(interval=0.2, num_minor_ticks=2)
p.xaxis.ticker = xt
p.xgrid.ticker = xt
p.yaxis.ticker = yt
p.ygrid.ticker = yt
p.xaxis.bounds = x_axis_span
p.yaxis.bounds = y_axis_span
p.xgrid.bounds = x_axis_span
p.ygrid.bounds = y_axis_span

for g in (p.xgrid, p.ygrid):
    g.grid_line_color = "#d9d9d9"
    g.grid_line_width = 1
    g.minor_grid_line_color = "#eeeeee"
    g.minor_grid_line_width = 1

for ax in (p.xaxis, p.yaxis):
    ax.formatter = NumeralTickFormatter(format="0.00")
    ax.major_label_text_font = FONT
    ax.major_label_text_font_size = "13.5px"
    ax.major_label_text_color = TXT
    ax.axis_label_text_font = FONT
    ax.axis_label_text_font_size = "13.5px"
    ax.axis_label_text_font_style = "normal"
    ax.axis_label_text_color = TXT
    ax.axis_line_color = "#d9d9d9"
    ax.major_tick_line_color = "#d9d9d9"
    ax.minor_tick_line_color = None
    ax.major_tick_in = 0

p.yaxis.major_tick_out = 5
p.yaxis.major_label_standoff = 7
p.yaxis.axis_label_standoff = 12
p.xaxis.major_tick_out = 0
p.xaxis.major_label_standoff = 12
p.xaxis.axis_label_standoff = 3
p.xaxis.axis_label = x_title
p.yaxis.axis_label = y_title

# scatter series
p.scatter(tmy_x, tmy_y, marker="square", size=6.5, fill_color=None,
          line_color="black", line_width=1.5)
p.scatter(lab_x, lab_y, marker="circle", size=6, fill_color=None,
          line_color=GRAY, line_width=1.6)

# trend lines over each series' temperature span
tx = [min(tmy_x), max(tmy_x)]
r_tl = p.line(tx, [tmy_slope * v + tmy_intercept for v in tx], line_color="black", line_width=2)
lx = [min(lab_x), max(lab_x)]
r_ll = p.line(lx, [lab_slope * v + lab_intercept for v in lx], line_color="#1a1a1a",
              line_width=2, line_dash="7 4")

# white masks hiding grid lines in the overhang area outside the axes
p.add_layout(BoxAnnotation(bottom=y_axis_span[1] + 0.004, fill_color="white", fill_alpha=1,
                           line_alpha=0))
p.add_layout(BoxAnnotation(left=x_axis_span[1] + 0.04, fill_color="white", fill_alpha=1,
                           line_alpha=0))

# equations
p.add_layout(Label(x=25.6, y=0.265, text=lab_equation, text_font=FONT, text_font_size="14px",
                   text_color="#a6a6a6", text_baseline="middle"))
p.add_layout(Label(x=4.5, y=-0.58, text=tmy_equation, text_font=FONT, text_font_size="14px",
                   text_color=TXT, text_baseline="middle"))

# legend frame (overhangs the axes on the top right, as in the original)
p.add_layout(BoxAnnotation(left=15.63, right=35.9, bottom=0.8025, top=1.0677,
                           fill_color="white", fill_alpha=1, line_color="#595959", line_width=1))

# legend glyph stand-ins (smaller markers as in the original legend); their single
# row is NaN so nothing is drawn in the plot area
nan = float("nan")
r_tmy_leg = p.scatter([nan], [nan], marker="square", size=5, fill_color=None,
                      line_color="black", line_width=1.4)
r_lab_leg = p.scatter([nan], [nan], marker="circle", size=5, fill_color=None,
                      line_color=GRAY, line_width=1.2)

common = dict(orientation="vertical", padding=0, margin=0, spacing=4, glyph_height=11,
              label_height=16, label_standoff=1, label_text_font=FONT, label_text_font_size="14px",
              label_text_color=TXT, border_line_color=None, background_fill_alpha=0)
legend_a = Legend(items=[LegendItem(label="TMY", renderers=[r_tmy_leg]),
                         LegendItem(label="trend line TMY", renderers=[r_tl])],
                  location=(235, 230), glyph_width=39, **common)
legend_b = Legend(items=[LegendItem(label="LAB", renderers=[r_lab_leg]),
                         LegendItem(label="trend line LAB", renderers=[r_ll])],
                  location=(377, 230), glyph_width=42, **common)
p.add_layout(legend_a)
p.add_layout(legend_b)

open("out.html", "w").write(file_html(p, INLINE))
